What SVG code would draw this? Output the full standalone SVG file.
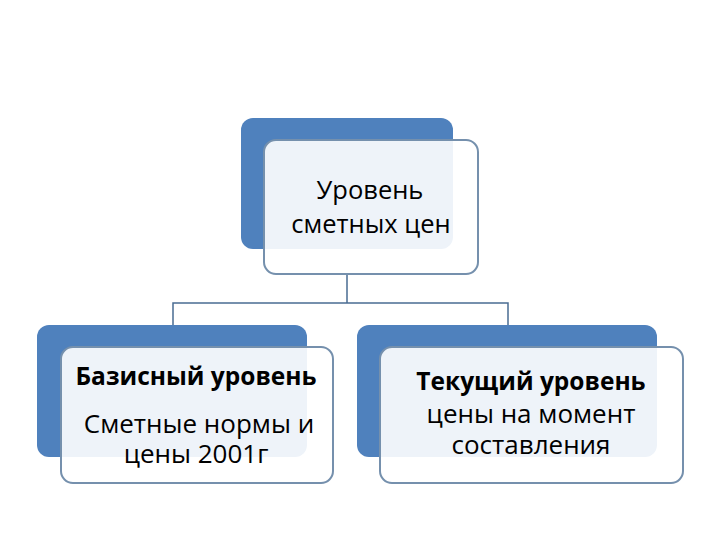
<svg xmlns="http://www.w3.org/2000/svg" width="720" height="540" viewBox="0 0 720 540">
<style>
.back{fill:#4f81bd;}
.card{fill:#ffffff;fill-opacity:0.9;stroke:#7590ad;stroke-width:2;}
.conn{fill:none;stroke:#4a6c93;stroke-width:1.5;}
text{font-family:"Open Sans","Liberation Sans",Arial,sans-serif;fill:#000;text-anchor:middle;}
.t{font-size:25.5px;}
.b{font-size:24.5px;font-weight:bold;}
.s{font-size:26px;}
</style>
<rect width="720" height="540" fill="#ffffff"/>
<g id="connectors">
<path class="conn" d="M347,275 V303 M173,325 V303 H508 V325"/>
</g>
<g id="node-top">
<rect class="back" x="241" y="118" width="212" height="131" rx="12"/>
<rect class="card" x="264" y="140" width="214" height="134" rx="12"/>
<text class="t" x="370" y="199">Уровень</text>
<text class="t" x="371" y="233">сметных цен</text>
</g>
<g id="node-base">
<rect class="back" x="37" y="325" width="270" height="132" rx="12"/>
<rect class="card" x="61" y="347" width="272" height="136" rx="12"/>
<text class="b" x="196" y="385">Базисный уровень</text>
<text class="s" x="199" y="433">Сметные нормы и</text>
<text class="s" x="196" y="463">цены 2001г</text>
</g>
<g id="node-current">
<rect class="back" x="357" y="325" width="300" height="132" rx="12"/>
<rect class="card" x="380" y="347" width="303" height="136" rx="12"/>
<text class="b" x="531" y="390">Текущий уровень</text>
<text class="s" x="531" y="423">цены на момент</text>
<text class="s" x="531" y="454">составления</text>
</g>
</svg>
